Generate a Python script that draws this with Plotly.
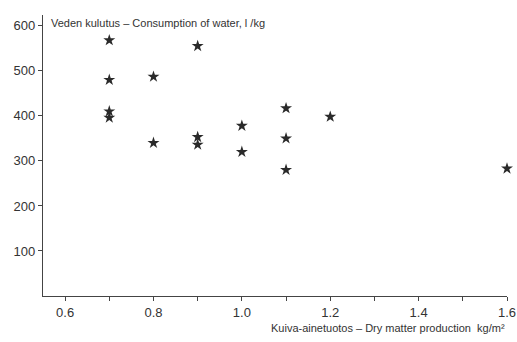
import plotly.graph_objects as go

dm_production = [0.7, 0.7, 0.7, 0.7, 0.8, 0.8, 0.9, 0.9, 0.9, 1.0, 1.0, 1.1, 1.1, 1.1, 1.2, 1.6]
water_use = [568, 480, 410, 396, 487, 340, 555, 353, 336, 378, 320, 417, 350, 280, 398, 283]
x_ticks = [0.6, 0.8, 1.0, 1.2, 1.4, 1.6]
x_labels = ["0.6", "0.8", "1.0", "1.2", "1.4", "1.6"]
y_ticks = [100, 200, 300, 400, 500, 600]

fig = go.Figure()
fig.add_trace(go.Scatter(
    x=dm_production, y=water_use, mode="markers", cliponaxis=False,
    marker=dict(symbol="star", size=9, color="#2a2a2a", line=dict(width=0)),
    showlegend=False,
))

axis_font = dict(family="Liberation Sans, Arial, sans-serif", size=13, color="#333")
fig.update_layout(
    width=517, height=342,
    margin=dict(l=43, r=10, t=15, b=46, autoexpand=False),
    paper_bgcolor="white", plot_bgcolor="white",
    font=dict(family="Liberation Sans, Arial, sans-serif", color="#333"),
    xaxis=dict(
        range=[0.55, 1.6], tickvals=x_ticks, ticktext=x_labels, automargin=False,
        showgrid=False, zeroline=False, showline=True, linecolor="#444", linewidth=1.2,
        ticks="outside", ticklen=4, tickcolor="#444", tickfont=axis_font,
        minor=dict(tickvals=[0.7, 0.9, 1.1, 1.3, 1.5], ticks="outside", ticklen=4, tickcolor="#444"),
    ),
    yaxis=dict(
        range=[0, 624], tickvals=y_ticks, automargin=False,
        showgrid=False, zeroline=False, showline=True, linecolor="#444", linewidth=1.2,
        ticks="outside", ticklen=4, tickcolor="#444", tickfont=axis_font,
    ),
    annotations=[
        dict(text="Veden kulutus – Consumption of water, l /kg", xref="paper", yref="paper",
             x=0.012, y=1.0, xanchor="left", yanchor="top", showarrow=False,
             font=dict(size=11, color="#333")),
        dict(text="Kuiva-ainetuotos – Dry matter production  kg/m²", xref="paper", yref="paper",
             x=1.0, y=-0.085, xanchor="right", yanchor="top", showarrow=False,
             font=dict(size=11, color="#333")),
    ],
)
fig.write_html("out.html")
